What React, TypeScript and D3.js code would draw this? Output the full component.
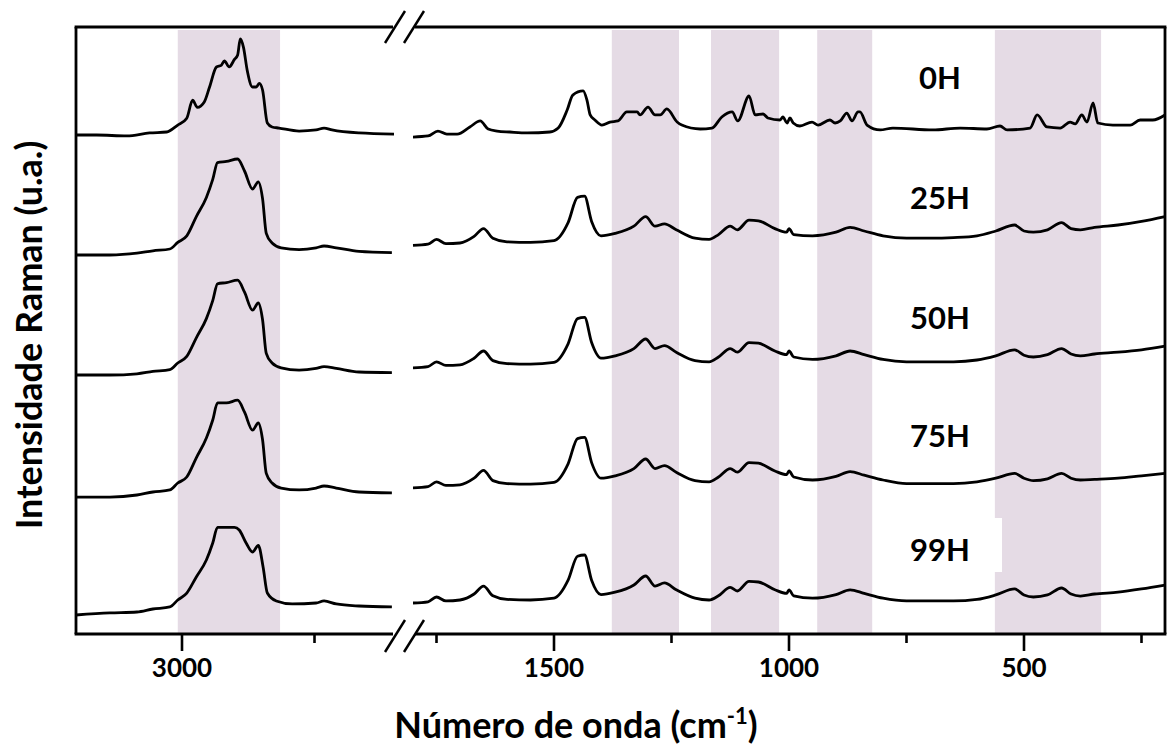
import React from "react";
import * as d3 from "d3";

// ---------- data ----------
const seriesLabels = ["0H", "25H", "50H", "75H", "99H"];
const seriesOffsets = [400, 300, 200, 100, 0];

// shaded bands [from, to] in cm-1
const bands: [number, number][] = [
  [3008, 2815],
  [1377, 1234],
  [1166, 1021],
  [940, 823],
  [562, 336],
];

const leftTicksMajor = [3000];
const leftTicksMinor = [2750];
const rightTicksMajor = [1500, 1000, 500];
const rightTicksMinor = [1750, 1250, 750, 250];

// 0H
const s0Left: [number, number][] = [
  [3200, 0], [3161, 0], [3104, -0.8], [3061, 1.7], [3029, 2.5], [3008, 8.3], [2991, 14],
  [2980, 29], [2971, 23], [2958, 27.5], [2948, 40], [2935, 56.7], [2926, 58], [2920, 61.7],
  [2911, 56.7], [2901, 63], [2895, 66.7], [2890, 80], [2884, 73], [2877, 54], [2867, 40],
  [2860, 40], [2854, 43], [2848, 37.5], [2839, 10], [2830, 6.7], [2817, 5.8], [2779, 3.3],
  [2747, 4.2], [2732, 5.8], [2717, 4.2], [2666, 1.7], [2600, 0.8],
];
const s0Right: [number, number][] = [
  [1800, -1.7], [1768, -0.8], [1747, 3.3], [1728, 0.8], [1706, 0.8], [1679, 6.7], [1657, 11.7],
  [1640, 5], [1621, 3.3], [1594, 2.5], [1557, 1.7], [1509, 2.5], [1491, 5.8], [1472, 20.8],
  [1460, 33.3], [1438, 36.7], [1430, 29.2], [1423, 16.7], [1413, 12.5], [1398, 8.3], [1381, 10.8],
  [1364, 11.7], [1345, 19.2], [1323, 19.2], [1317, 16.7], [1300, 23.3], [1285, 16.7], [1274, 16.7],
  [1260, 21.7], [1238, 10.8], [1228, 8.3], [1189, 5], [1164, 5.8], [1143, 15], [1121, 19.2],
  [1109, 11.7], [1085, 32.5], [1072, 16.7], [1055, 17.5], [1045, 14.2], [1019, 12.5], [1013, 15],
  [1004, 10], [998, 14.2], [991, 10], [977, 7.5], [951, 10.8], [938, 8.3], [913, 12.5], [902, 10],
  [891, 11.7], [877, 18.3], [866, 11.7], [853, 19.2], [849, 19.2], [834, 8.3], [806, 4.2],
  [779, 5.8], [694, 4.2], [636, 5.8], [579, 5], [551, 7.5], [536, 4.2], [487, 5.8], [472, 16.7],
  [451, 6.7], [423, 5.8], [402, 10.8], [391, 9.2], [377, 16.7], [366, 10.8], [353, 26.7],
  [343, 10], [311, 8.3], [274, 8.3], [253, 12.5], [226, 12.5], [200, 16.7],
];

// 25H
const s25Left: [number, number][] = [
  [3200, 0], [3136, 0], [3085, 1.5], [3055, 3.5], [3023, 5], [3008, 10.5], [2991, 16],
  [2973, 32], [2954, 48], [2942, 63], [2933, 77], [2916, 78], [2895, 80], [2882, 70],
  [2867, 55], [2856, 61], [2848, 47], [2841, 18], [2830, 10], [2813, 6], [2779, 4.5],
  [2747, 6], [2732, 7.5], [2709, 6], [2666, 3], [2604, 2],
];
const s25Right: [number, number][] = [
  [1800, 8], [1768, 9], [1750, 13], [1730, 9.5], [1700, 10], [1670, 15.5], [1650, 22],
  [1630, 14], [1600, 11], [1550, 10.5], [1500, 12], [1470, 27], [1450, 48], [1435, 49],
  [1420, 28], [1400, 16], [1370, 18], [1330, 24], [1305, 32], [1285, 24], [1265, 26],
  [1240, 21], [1200, 14], [1170, 13], [1150, 17], [1125, 24], [1110, 21], [1085, 29],
  [1065, 28.5], [1030, 22], [1005, 19], [1000, 22], [990, 17], [950, 16], [900, 19],
  [870, 23], [840, 20], [800, 16], [750, 14], [700, 14], [650, 14.5], [600, 16], [560, 20],
  [520, 25], [500, 20], [480, 19], [450, 21], [420, 27], [400, 22], [380, 21], [350, 23],
  [300, 25], [250, 28], [200, 32],
];

// 50H
const s50Left: [number, number][] = [
  [3200, 0], [3136, 0], [3085, 1], [3055, 3], [3023, 4.5], [3008, 10], [2991, 15.5],
  [2973, 31], [2954, 47], [2942, 62], [2933, 76], [2916, 77], [2895, 79], [2882, 69],
  [2867, 54], [2856, 60], [2848, 46], [2841, 18], [2830, 10], [2813, 6], [2779, 4],
  [2747, 5.5], [2732, 7], [2709, 5.5], [2666, 2.5], [2604, 2],
];
const s50Right: [number, number][] = [
  [1800, 6], [1768, 7], [1750, 11], [1730, 8], [1700, 8.5], [1670, 14], [1650, 20],
  [1630, 12], [1600, 9.5], [1550, 9], [1500, 10.5], [1470, 26], [1450, 47], [1435, 48],
  [1420, 27], [1400, 14], [1370, 16], [1330, 22], [1305, 30], [1285, 22], [1265, 24.5],
  [1240, 19], [1200, 12], [1170, 11], [1150, 15], [1125, 22], [1110, 19], [1085, 27],
  [1065, 26.5], [1030, 20], [1005, 17], [1000, 20], [990, 15], [950, 13], [900, 16],
  [870, 20], [840, 17], [800, 13], [750, 11], [700, 11], [650, 11], [600, 12.5], [560, 16],
  [520, 21], [500, 16.5], [480, 15], [450, 17], [420, 22], [400, 17.5], [380, 16], [350, 17.5],
  [300, 19], [250, 21], [200, 24],
];

// 75H
const s75Left: [number, number][] = [
  [3200, -1.7], [3136, -1.7], [3085, 0], [3055, 2.5], [3023, 4.2], [3008, 10], [2991, 15],
  [2973, 31], [2954, 47.5], [2942, 62.5], [2933, 76.7], [2916, 76.7], [2895, 79], [2882, 69],
  [2867, 54], [2856, 60], [2848, 46], [2841, 18], [2830, 10], [2813, 5.8], [2779, 4.2],
  [2747, 5.8], [2732, 7.5], [2709, 5.8], [2666, 2.5], [2604, 1.7],
];
const s75Right: [number, number][] = [
  [1800, 6], [1768, 7], [1750, 11], [1730, 8], [1700, 8.5], [1670, 14], [1650, 20.5],
  [1630, 12], [1600, 9.5], [1550, 9], [1500, 10.5], [1470, 26], [1450, 47], [1435, 48],
  [1420, 27], [1400, 14], [1370, 16], [1330, 22], [1305, 30], [1285, 22], [1265, 24.5],
  [1240, 19], [1200, 12], [1170, 11], [1150, 15], [1125, 22], [1110, 19], [1085, 27],
  [1065, 26.5], [1030, 20], [1005, 17], [1000, 20], [990, 15], [950, 12.5], [900, 15.5],
  [870, 19.5], [840, 16.5], [800, 12.5], [750, 9.5], [700, 9.5], [650, 9.5], [600, 11],
  [560, 14], [520, 18], [500, 14], [480, 12], [450, 13.5], [420, 18], [400, 14], [380, 12.5],
  [350, 13], [300, 14], [250, 16], [200, 18],
];

// 99H
const s99Left: [number, number][] = [
  [3200, 0], [3136, 1.7], [3085, 2.5], [3055, 5], [3023, 6.7], [3008, 12.5], [2991, 18.3],
  [2973, 31.7], [2954, 45.8], [2942, 60], [2933, 73], [2901, 73], [2892, 70.8], [2879, 60],
  [2867, 52.5], [2856, 58], [2847, 40], [2839, 18.3], [2822, 11.7], [2792, 9.2], [2747, 10],
  [2732, 11.7], [2709, 9.2], [2666, 7.5], [2604, 6.7],
];
const s99Right: [number, number][] = [
  [1800, 10], [1768, 11], [1750, 15], [1730, 11.7], [1700, 12.5], [1670, 17.5], [1650, 24],
  [1630, 16], [1600, 13], [1550, 12.5], [1500, 14], [1470, 29], [1450, 49], [1435, 50],
  [1420, 29], [1400, 17], [1370, 19], [1330, 25], [1305, 32.5], [1285, 24], [1265, 26.7],
  [1240, 21], [1200, 14], [1170, 12.5], [1150, 16], [1125, 23], [1110, 20], [1085, 28],
  [1065, 27.5], [1030, 21], [1005, 18], [1000, 21], [990, 16], [950, 14], [900, 17],
  [870, 21], [840, 18], [800, 14], [750, 11.7], [700, 11.7], [650, 11.7], [600, 13],
  [560, 16.7], [520, 21.7], [500, 16.7], [480, 15], [450, 16.7], [420, 22.5], [400, 17.5],
  [380, 15.8], [350, 17.5], [300, 19], [250, 21.7], [200, 25],
];

const leftData = [s0Left, s25Left, s50Left, s75Left, s99Left];
const rightData = [s0Right, s25Right, s50Right, s75Right, s99Right];

// ---------- layout ----------
const W = 1169;
const H = 749;
const frameL = 76;
const frameR = 1165;
const frameT = 27;
const frameB = 634;
const leftEnd = 394;
const rightStart = 413;
const FONT = "Lato, 'Open Sans', sans-serif";

export default function App() {
  const xL = d3.scaleLinear().domain([3200, 2600]).range([frameL, leftEnd]);
  const xR = d3.scaleLinear().domain([1800, 200]).range([rightStart, frameR]);
  const y = d3.scaleLinear().domain([-15.83, 490]).range([frameB, frameT]);

  const mkLine = (xs: d3.ScaleLinear<number, number>, off: number) =>
    d3
      .line<[number, number]>()
      .x((d) => xs(d[0]))
      .y((d) => y(d[1] + off))
      .curve(d3.curveMonotoneX);

  const bandX = (b: [number, number]) => {
    const sc = b[0] > 2000 ? xL : xR;
    return [sc(b[0]), sc(b[1])];
  };

  const slash = (cx: number, cy: number, key: string) => (
    <g key={key}>
      <line x1={cx - 10 - 9} y1={cy + 16} x2={cx - 10 + 11} y2={cy - 16} stroke="#000" strokeWidth={2.5} />
      <line x1={cx + 9 - 9} y1={cy + 16} x2={cx + 9 + 11} y2={cy - 16} stroke="#000" strokeWidth={2.5} />
    </g>
  );

  const labelY = [78, 198, 318, 436, 550];

  return (
    <svg width={W} height={H} style={{ position: "absolute", left: 0, top: 0, background: "#fff" }}>
      <rect x={0} y={0} width={W} height={H} fill="#fff" />
      {/* bands */}
      {bands.map((b, i) => {
        const [a, c] = bandX(b);
        return (
          <rect key={"b" + i} x={a} y={frameT + 3} width={c - a} height={frameB - frameT - 4} fill="#e5dbe5" />
        );
      })}
      {/* white box behind 99H label */}
      <rect x={880} y={518} width={122} height={54} fill="#fff" />
      {/* spectra */}
      {seriesOffsets.map((off, i) => (
        <g key={"s" + i} fill="none" stroke="#000" strokeWidth={2.8} strokeLinejoin="round">
          <path d={mkLine(xL, off)(leftData[i]) || ""} />
          <path d={mkLine(xR, off)(rightData[i]) || ""} />
        </g>
      ))}
      {/* frame */}
      <g stroke="#000" strokeWidth={2.8} fill="none">
        <line x1={frameL} y1={frameT} x2={frameL} y2={frameB} />
        <line x1={frameR} y1={frameT} x2={frameR} y2={frameB} />
        <line x1={frameL - 1.4} y1={frameT} x2={leftEnd - 1} y2={frameT} />
        <line x1={rightStart + 2} y1={frameT} x2={frameR + 1.4} y2={frameT} />
        <line x1={frameL - 1.4} y1={frameB} x2={leftEnd - 1} y2={frameB} />
        <line x1={rightStart + 2} y1={frameB} x2={frameR + 1.4} y2={frameB} />
      </g>
      {slash(404, 27, "st")}
      {slash(404, 636, "sb")}
      {/* ticks */}
      <g stroke="#000" strokeWidth={2.6}>
        {leftTicksMajor.map((t) => (
          <line key={"lM" + t} x1={xL(t)} x2={xL(t)} y1={frameB} y2={frameB + 17} />
        ))}
        {leftTicksMinor.map((t) => (
          <line key={"lm" + t} x1={xL(t)} x2={xL(t)} y1={frameB} y2={frameB + 9} />
        ))}
        {rightTicksMajor.map((t) => (
          <line key={"rM" + t} x1={xR(t)} x2={xR(t)} y1={frameB} y2={frameB + 17} />
        ))}
        {rightTicksMinor.map((t) => (
          <line key={"rm" + t} x1={xR(t)} x2={xR(t)} y1={frameB} y2={frameB + 9} />
        ))}
      </g>
      {/* tick labels */}
      <g fontFamily={FONT} fontWeight={700} fontSize={26} textAnchor="middle" fill="#000">
        {leftTicksMajor.map((t) => (
          <text key={"tl" + t} x={xL(t)} y={677}>{t}</text>
        ))}
        {rightTicksMajor.map((t) => (
          <text key={"tr" + t} x={xR(t)} y={677}>{t}</text>
        ))}
      </g>
      {/* series labels */}
      <g fontFamily={FONT} fontWeight={700} fontSize={31} textAnchor="middle" fill="#000">
        {seriesLabels.map((l, i) => (
          <text key={"l" + l} x={940} y={labelY[i] + 11}>{l}</text>
        ))}
      </g>
      {/* axis titles */}
      <text x={576} y={738} fontFamily={FONT} fontWeight={700} fontSize={36} textAnchor="middle" fill="#000">
        Número de onda (cm<tspan dy={-14} fontSize={22}>-1</tspan><tspan dy={14}>)</tspan>
      </text>
      <text
        transform="translate(42,335) rotate(-90)"
        fontFamily={FONT}
        fontWeight={700}
        fontSize={36}
        textAnchor="middle"
        fill="#000"
      >
        Intensidade Raman (u.a.)
      </text>
    </svg>
  );
}
